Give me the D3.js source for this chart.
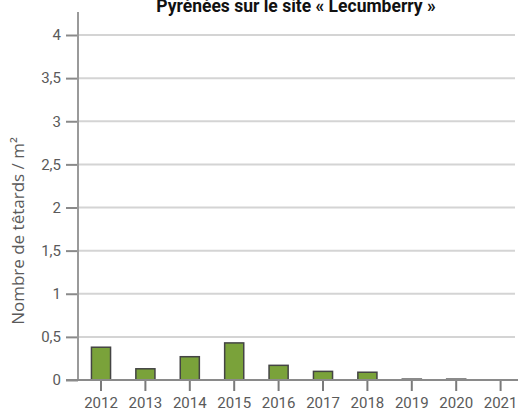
<!DOCTYPE html>
<html>
<head>
<meta charset="utf-8">
<script src="https://cdn.jsdelivr.net/npm/d3@7"></script>
<style>
  body { margin: 0; background: #fff; }
  svg { display: block; }
</style>
</head>
<body>
<div id="chart"></div>
<script>
// data
const years = ['2012', '2013', '2014', '2015', '2016', '2017', '2018', '2019', '2020', '2021'];
const tetards = [0.38, 0.13, 0.27, 0.43, 0.17, 0.10, 0.09, 0.01, 0.01, 0];
const yTicks = [0, 0.5, 1, 1.5, 2, 2.5, 3, 3.5, 4];
const title = 'Pyrénées sur le site « Lecumberry »';

const width = 518, height = 410;
const font = 'Roboto, "Open Sans", sans-serif';

const svg = d3.select('#chart')
  .append('svg')
    .attr('width', width)
    .attr('height', height);

const x = d3.scaleBand()
  .domain(years)
  .range([78.8, 522.8])
  .paddingInner(0.57)
  .paddingOuter(0.285);

const y = d3.scaleLinear()
  .domain([0, 4])
  .range([380, 35]);

// gridlines
svg.append('g')
  .selectAll('line')
  .data(yTicks.filter(d => d > 0))
  .enter()
  .append('line')
    .attr('x1', 78)
    .attr('x2', 515)
    .attr('y1', d => y(d))
    .attr('y2', d => y(d))
    .attr('stroke', '#d4d4d4')
    .attr('stroke-width', 2);

// y axis
const yAxis = svg.append('g')
  .attr('transform', 'translate(78,0)')
  .call(d3.axisLeft(y).tickValues(yTicks).tickSize(12).tickPadding(5)
    .tickFormat(d => String(d).replace('.', ',')));
yAxis.select('.domain').remove();
yAxis.selectAll('.tick line').attr('stroke', '#8a8a8a').attr('stroke-width', 2);
yAxis.selectAll('.tick text')
  .attr('fill', '#5a5a5a')
  .style('font-family', font)
  .style('font-size', '15px');

svg.append('line')
  .attr('x1', 78).attr('x2', 78)
  .attr('y1', 12).attr('y2', 381)
  .attr('stroke', '#9a9a9a')
  .attr('stroke-width', 2);

// bars
svg.append('g')
  .selectAll('rect')
  .data(tetards)
  .enter()
  .append('rect')
    .attr('x', (d, i) => x(years[i]))
    .attr('y', d => y(d))
    .attr('width', x.bandwidth())
    .attr('height', d => y(0) - y(d))
    .attr('fill', d => d > 0.02 ? '#7aa23a' : 'none')
    .attr('stroke', '#444')
    .attr('stroke-width', d => d > 0 ? 1.5 : 0);

// x axis
const xAxis = svg.append('g')
  .attr('transform', 'translate(0,380)')
  .call(d3.axisBottom(x).tickSize(11).tickPadding(6));
xAxis.select('.domain').remove();
xAxis.selectAll('.tick line').attr('stroke', '#7a7a7a').attr('stroke-width', 2);
xAxis.selectAll('.tick text')
  .attr('fill', '#5a5a5a')
  .style('font-family', font)
  .style('font-size', '15px');

svg.append('line')
  .attr('x1', 66).attr('x2', 518)
  .attr('y1', 380).attr('y2', 380)
  .attr('stroke', '#8a8a8a')
  .attr('stroke-width', 2);

// y label
svg.append('text')
  .attr('transform', 'translate(24,231) rotate(-90)')
  .attr('text-anchor', 'middle')
  .attr('fill', '#5a5a5a')
  .style('font-family', '"Open Sans", sans-serif')
  .style('font-size', '17px')
  .text('Nombre de têtards / m²');

// title (cut at top edge)
svg.append('text')
  .attr('x', 296)
  .attr('y', 12)
  .attr('text-anchor', 'middle')
  .attr('fill', '#111')
  .style('font-family', font)
  .style('font-weight', 'bold')
  .style('font-size', '17.5px')
  .text(title);
</script>
</body>
</html>
